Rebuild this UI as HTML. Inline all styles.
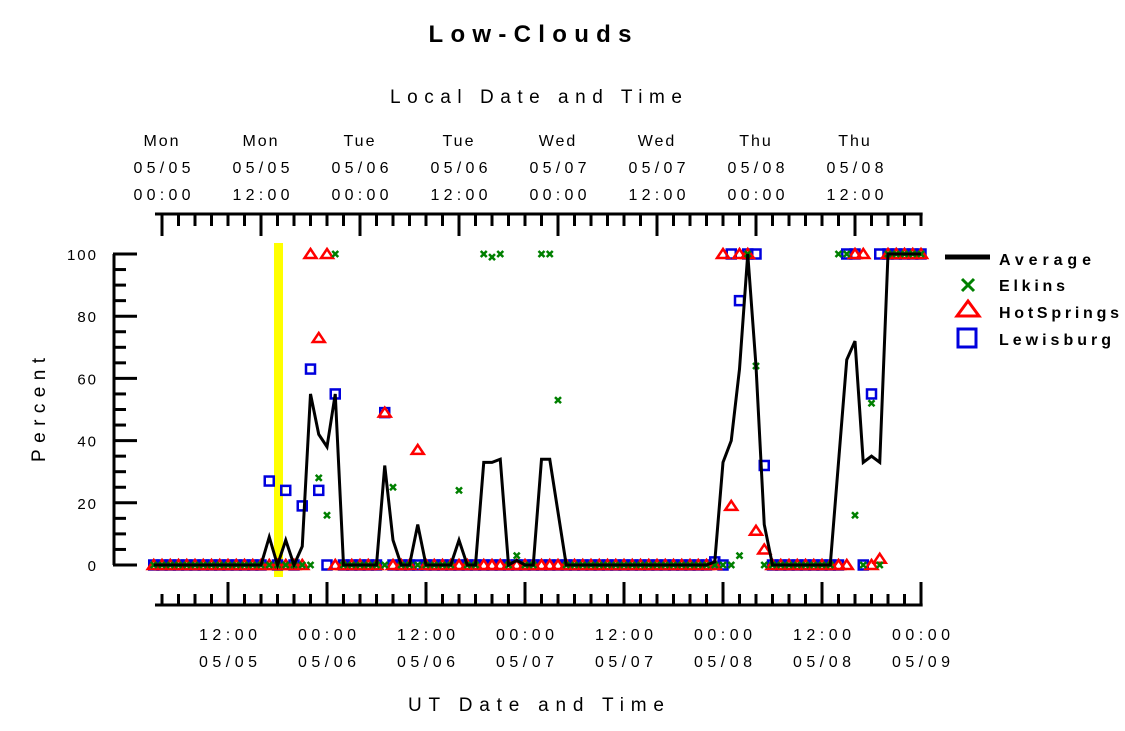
<!DOCTYPE html>
<html><head><meta charset="utf-8"><style>
body{margin:0;background:#fff;}
svg{display:block;font-family:"Liberation Sans",sans-serif;}
</style></head><body>
<svg id="chart" width="1125" height="731" viewBox="0 0 1125 731">
<text x="530" y="42" text-anchor="middle" font-size="24" font-weight="bold" textLength="203" lengthAdjust="spacing">Low-Clouds</text>
<text x="536" y="103" text-anchor="middle" font-size="19" textLength="292" lengthAdjust="spacing">Local Date and Time</text>
<text x="536" y="711" text-anchor="middle" font-size="19" textLength="256" lengthAdjust="spacing">UT Date and Time</text>
<text x="0" y="0" transform="translate(45,410) rotate(-90)" text-anchor="middle" font-size="19" textLength="104" lengthAdjust="spacing">Percent</text>
<rect x="274" y="243" width="9" height="334" fill="#ffff00"/>
<g id="axes"></g>
<g id="series"></g>
<g id="legend">
 <line x1="945" y1="257" x2="990" y2="257" stroke="#000" stroke-width="5"/>
 <text x="999" y="265" font-size="16" font-weight="bold" textLength="92" lengthAdjust="spacing">Average</text>
 <path d="M962,279 L974,291 M974,279 L962,291" stroke="#008000" stroke-width="3"/>
 <text x="999" y="291" font-size="16" font-weight="bold" textLength="66" lengthAdjust="spacing">Elkins</text>
 <polygon points="968,301 979,316 957,316" fill="none" stroke="#ff0000" stroke-width="3"/>
 <text x="999" y="318" font-size="16" font-weight="bold" textLength="120" lengthAdjust="spacing">HotSprings</text>
 <rect x="958" y="329" width="18" height="18" fill="none" stroke="#0000dd" stroke-width="3"/>
 <text x="999" y="345" font-size="16" font-weight="bold" textLength="112" lengthAdjust="spacing">Lewisburg</text>
</g>
</svg>
<script>
// hours relative to 05/06 00:00 UT, t = -21 .. 72 (hourly)
const startHour = -21;
const average = [0,0,0,0,0,0,0,0,0,0,0,0,0,0,
 9,0,8,0,6,55,42,38,55,0,
 0,0,0,0,
 32,8,0,0,13,
 0,0,0,0,
 8,0,0,33,33,34,0,1.5,0,0,34,34,17,
 0,0,0,0,0,0,0,0,0,0,0,0,0,0,0,0,0,0,
 1,33,40,63,100,64,13,
 0,0,0,0,0,0,0,0,
 33,66,72,33,35,33,
 100,100,100,100,100];
const elkins = [0,0,0,0,0,0,0,0,0,0,0,0,0,0,
 0,0,0,0,0,0,28,16,100,0,
 0,0,0,0,
 0,25,0,0,0,
 0,0,0,0,
 24,0,0,100,99,100,0,3,0,0,100,100,53,
 0,0,0,0,0,0,0,0,0,0,0,0,0,0,0,0,0,0,
 0,0,0,3,100,64,0,
 0,0,0,0,0,0,0,0,
 100,100,16,0,52,0,
 100,100,100,100,100];
const hotSprings = [0,0,0,0,0,0,0,0,0,0,0,0,0,0,
 0,0,0,0,0,100,73,100,0,0,
 0,0,0,0,
 49,0,0,0,37,
 0,0,0,0,
 0,0,0,0,0,0,0,0,0,0,0,0,0,
 0,0,0,0,0,0,0,0,0,0,0,0,0,0,0,0,0,0,
 0,100,19,100,100,11,5,
 0,0,0,0,0,0,0,0,
 0,0,100,100,0,2,
 100,100,100,100,100];
const lewisburg = [0,0,0,0,0,0,0,0,0,0,0,0,0,0,
 27,0,24,0,19,63,24,0,55,0,
 0,0,0,0,
 49,0,0,0,0,
 0,0,0,0,
 0,0,0,0,0,0,0,0,0,0,0,0,0,
 0,0,0,0,0,0,0,0,0,0,0,0,0,0,0,0,0,0,
 1,0,100,85,100,100,32,
 0,0,0,0,0,0,0,0,
 0,100,100,0,55,100,
 100,100,100,100,100];
const yTicks = [0,20,40,60,80,100];
const utLabels = [["12:00","05/05"],["00:00","05/06"],["12:00","05/06"],["00:00","05/07"],["12:00","05/07"],["00:00","05/08"],["12:00","05/08"],["00:00","05/09"]];
const localLabels = [["Mon","05/05","00:00"],["Mon","05/05","12:00"],["Tue","05/06","00:00"],["Tue","05/06","12:00"],["Wed","05/07","00:00"],["Wed","05/07","12:00"],["Thu","05/08","00:00"],["Thu","05/08","12:00"]];

const NS="http://www.w3.org/2000/svg";
const xOf = t => 327 + 8.25*t;
const yOf = v => 565 - 3.11*v;
function mk(tag, attrs, parent){const e=document.createElementNS(NS,tag);for(const k in attrs)e.setAttribute(k,attrs[k]);parent.appendChild(e);return e;}
const axes=document.getElementById('axes');
const ser=document.getElementById('series');
// y axis
let yl=mk('line',{x1:114,y1:yOf(100),x2:114,y2:yOf(0),stroke:'#000','stroke-width':3},axes);


for(let v=0;v<=100;v+=5){
 const major=v%20===0;
 const tk=mk('line',{x1:113,y1:yOf(v),x2:major?137:126,y2:yOf(v),stroke:'#000','stroke-width':3},axes);
 
 
}
yTicks.forEach(v=>{
 const tx=mk('text',{x:98,y:yOf(v)+6,'text-anchor':'end','font-size':15,'letter-spacing':2},axes);
 tx.textContent=String(v);
 
 
});
// x axes
const tMin=-20.85,tMax=72.2;
let bl=mk('line',{x1:xOf(tMin),y1:605,x2:xOf(tMax),y2:605,stroke:'#000','stroke-width':3},axes);


let tl=mk('line',{x1:xOf(tMin),y1:214,x2:xOf(tMax),y2:214,stroke:'#000','stroke-width':3},axes);


for(let t=-20;t<=72;t+=2){
 const bMaj=((t%12)+12)%12===0;
 const tMaj=(((t-4)%12)+12)%12===0;
 const b=mk('line',{x1:xOf(t),y1:605,x2:xOf(t),y2:bMaj?582:594,stroke:'#000','stroke-width':3},axes);
 
 
 const u=mk('line',{x1:xOf(t),y1:214,x2:xOf(t),y2:tMaj?236:226,stroke:'#000','stroke-width':3},axes);
 
 
}
utLabels.forEach((lab,i)=>{
 const t=-12+12*i;
 lab.forEach((s,j)=>{
  const tx=mk('text',{x:xOf(t),y:640+j*27,'text-anchor':'middle','font-size':16,textLength:58,lengthAdjust:'spacing'},axes);
  tx.textContent=s;
  
  
 });
});
localLabels.forEach((lab,i)=>{
 const t=-20+12*i;
 lab.forEach((s,j)=>{
  const a={x:xOf(t),y:146+j*27,'text-anchor':'middle','font-size':16};
  if(j>0){a.textLength=57;a.lengthAdjust='spacing';}else{a['letter-spacing']=2;}
  const tx=mk('text',a,axes);
  tx.textContent=s;
  
  
 });
});
// markers
function drawMarkers(arr,kind,name){
 const g=mk('g',{},ser);
 
 
 arr.forEach((v,i)=>{
  if(v===null)return;
  const x=xOf(startHour+i),y=yOf(v);let e;
  if(kind==='tri'){e=mk('polygon',{points:`${x},${y-5} ${x+6},${y+4} ${x-6},${y+4}`,fill:'none',stroke:'#ff0000','stroke-width':2.5},g);}
  else if(kind==='sq'){e=mk('rect',{x:x-4.5,y:y-4.5,width:9,height:9,fill:'none',stroke:'#0000dd','stroke-width':2.5},g);}
  else {e=mk('path',{d:`M${x-3},${y-3}L${x+3},${y+3}M${x+3},${y-3}L${x-3},${y+3}`,stroke:'#008000','stroke-width':2.5},g);}
  
  
 });
}
drawMarkers(lewisburg,'sq','lewisburg');
drawMarkers(hotSprings,'tri','hotsprings');
drawMarkers(elkins,'x','elkins');
const pts=average.map((v,i)=>xOf(startHour+i)+','+yOf(v)).join(' ');
const pl=mk('polyline',{points:pts,fill:'none',stroke:'#000','stroke-width':3,'stroke-linejoin':'miter'},ser);


</script>
</body></html>
